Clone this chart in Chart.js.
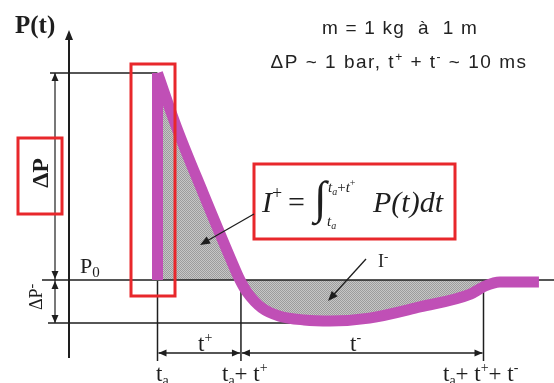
<!DOCTYPE html>
<html>
<head>
<meta charset="utf-8">
<script src="https://cdn.jsdelivr.net/npm/chart.js@4.4.1/dist/chart.umd.min.js"></script>
<style>
  html, body { margin: 0; padding: 0; background: #fff; }
  #wrap { width: 554px; height: 383px; }
</style>
</head>
<body>
<div id="wrap"><canvas id="chart" width="554" height="383"></canvas></div>
<script>
// blast wave overpressure profile, time in ms after arrival, pressure in bar above P0
const riseTime = [0, 0];
const risePressure = [0, 1.0];
const decayTime = [0, 0.58, 1.4, 2.25, 2.53, 2.75, 3.2, 3.75, 4.5, 5.3, 6.5, 8.05, 9.6, 10.05, 10.5, 11.7];
const decayPressure = [1.0, 0.74, 0.42, 0.1, 0, -0.06, -0.135, -0.175, -0.193, -0.198, -0.184, -0.13, -0.068, -0.029, -0.01, -0.01];

// time marks: t_a, t_a + t+, t_a + t+ + t-
const markTimes = [0, 2.56, 10.0];
// pressure marks: peak, ambient P0, lowest
const markPressures = [1.0, 0, -0.208];

const MAGENTA = '#c04fb6';
const RED = '#e8272b';
const INK = '#1e1e1e';
const SERIF = '"Liberation Serif", "Times New Roman", serif';
const SANS = '"Liberation Sans", Arial, sans-serif';

function toPoints(xs, ys) {
  return xs.map((x, i) => ({ x: x, y: ys[i] }));
}

function makeDots() {
  const c = document.createElement('canvas');
  c.width = 2;
  c.height = 2;
  const g = c.getContext('2d');
  g.fillStyle = '#c6c6c6';
  g.fillRect(0, 0, 2, 2);
  g.fillStyle = '#9c9c9c';
  g.fillRect(0, 0, 1, 1);
  g.fillRect(1, 1, 1, 1);
  return g.createPattern(c, 'repeat');
}

function seg(ctx, x1, y1, x2, y2) {
  ctx.beginPath();
  ctx.moveTo(x1, y1);
  ctx.lineTo(x2, y2);
  ctx.stroke();
}

function head(ctx, x, y, a, len, half) {
  const c = Math.cos(a), s = Math.sin(a);
  ctx.beginPath();
  ctx.moveTo(x, y);
  ctx.lineTo(x - c * len - s * half, y - s * len + c * half);
  ctx.lineTo(x - c * len + s * half, y - s * len - c * half);
  ctx.closePath();
  ctx.fill();
}

function arrowTo(ctx, x1, y1, x2, y2, len, half) {
  const a = Math.atan2(y2 - y1, x2 - x1);
  seg(ctx, x1, y1, x2 - Math.cos(a) * len * 0.7, y2 - Math.sin(a) * len * 0.7);
  head(ctx, x2, y2, a, len, half);
}

function dimension(ctx, x1, y1, x2, y2) {
  seg(ctx, x1, y1, x2, y2);
  const a = Math.atan2(y2 - y1, x2 - x1);
  head(ctx, x2, y2, a, 8, 3.5);
  head(ctx, x1, y1, a + Math.PI, 8, 3.5);
}

function runs(ctx, parts, x, y, align) {
  let w = 0;
  parts.forEach((p) => {
    ctx.font = p.f;
    p.w = ctx.measureText(p.t).width;
    w += p.w;
  });
  let cx = align === 'center' ? x - w / 2 : x;
  parts.forEach((p) => {
    ctx.font = p.f;
    ctx.fillText(p.t, cx, y + (p.dy || 0));
    cx += p.w;
  });
}

function box(ctx, x1, y1, x2, y2) {
  ctx.strokeRect(x1, y1, x2 - x1, y2 - y1);
}

const diagram = {
  id: 'diagram',
  beforeDatasetsDraw(chart) {
    const { ctx } = chart;
    const px = (v) => chart.scales.x.getPixelForValue(v);
    const py = (v) => chart.scales.y.getPixelForValue(v);
    const [tA, tPos, tNeg] = markTimes;
    const [pPeak, p0, pLow] = markPressures;

    ctx.save();
    ctx.strokeStyle = INK;
    ctx.fillStyle = INK;
    ctx.textAlign = 'left';
    ctx.textBaseline = 'alphabetic';

    // reference lines
    ctx.lineWidth = 1.5;
    seg(ctx, 42, py(p0), 554, py(p0));
    seg(ctx, 50, py(pPeak), px(tA), py(pPeak));
    seg(ctx, 48, py(pLow), 300, py(pLow));

    // pressure axis
    ctx.lineWidth = 2;
    seg(ctx, 69, 358, 69, 38);
    head(ctx, 69, 30, -Math.PI / 2, 10, 4);

    // ΔP and ΔP- dimensions
    ctx.lineWidth = 1.2;
    seg(ctx, 55, py(pPeak), 55, py(pLow));
    head(ctx, 55, py(pPeak), -Math.PI / 2, 8, 3.5);
    head(ctx, 55, py(p0) - 1, Math.PI / 2, 8, 3.5);
    head(ctx, 55, py(p0) + 1, -Math.PI / 2, 8, 3.5);
    head(ctx, 55, py(pLow), Math.PI / 2, 8, 3.5);

    // time marks and durations
    ctx.lineWidth = 1.5;
    markTimes.forEach((t) => seg(ctx, px(t), py(p0) + 1, px(t), 361));
    ctx.lineWidth = 1.3;
    dimension(ctx, px(tA) + 1, 353, px(tPos) - 1, 353);
    dimension(ctx, px(tPos) + 1, 353, px(tNeg) - 1, 353);

    // labels
    ctx.font = 'bold 25px ' + SERIF;
    ctx.fillText('P(t)', 15, 33);

    runs(ctx, [
      { t: 'P', f: '22px ' + SERIF },
      { t: '0', f: '15px ' + SERIF, dy: 4 },
    ], 80, 273);

    ctx.save();
    ctx.translate(42, 173);
    ctx.rotate(-Math.PI / 2);
    ctx.textAlign = 'center';
    ctx.textBaseline = 'middle';
    ctx.font = 'bold 24px ' + SERIF;
    ctx.fillText('ΔP', 0, 0);
    ctx.restore();

    ctx.save();
    ctx.translate(42, 297);
    ctx.rotate(-Math.PI / 2);
    runs(ctx, [
      { t: 'ΔP', f: '18px ' + SERIF },
      { t: '-', f: '14px ' + SERIF, dy: -6 },
    ], 0, 0, 'center');
    ctx.restore();

    const big = '23px ' + SERIF;
    const small = '14px ' + SERIF;
    runs(ctx, [{ t: 't', f: big }, { t: '+', f: small, dy: -9 }], 198, 351);
    runs(ctx, [{ t: 't', f: big }, { t: '-', f: small, dy: -9 }], 350, 351);

    runs(ctx, [{ t: 't', f: big }, { t: 'a', f: small, dy: 4 }], 156, 381);
    runs(ctx, [
      { t: 't', f: big }, { t: 'a', f: small, dy: 4 }, { t: '+ ', f: big },
      { t: 't', f: big }, { t: '+', f: small, dy: -9 },
    ], 222, 381);
    runs(ctx, [
      { t: 't', f: big }, { t: 'a', f: small, dy: 4 }, { t: '+ ', f: big },
      { t: 't', f: big }, { t: '+', f: small, dy: -9 }, { t: '+ ', f: big },
      { t: 't', f: big }, { t: '-', f: small, dy: -9 },
    ], 443, 381);

    // conditions
    ctx.fillStyle = '#222';
    ctx.letterSpacing = '1.2px';
    runs(ctx, [{ t: 'm = 1 kg  à  1 m', f: '19px ' + SANS }], 400, 34, 'center');
    ctx.letterSpacing = '1.5px';
    runs(ctx, [
      { t: 'ΔP ~ 1 bar, t', f: '19px ' + SANS },
      { t: '+', f: '12px ' + SANS, dy: -7 },
      { t: ' + t', f: '19px ' + SANS },
      { t: '-', f: '12px ' + SANS, dy: -7 },
      { t: ' ~ 10 ms', f: '19px ' + SANS },
    ], 399, 68, 'center');
    ctx.letterSpacing = '0px';
    ctx.restore();
  },
  afterDatasetsDraw(chart) {
    const { ctx } = chart;
    ctx.save();
    ctx.textAlign = 'left';
    ctx.textBaseline = 'alphabetic';

    // highlight frames
    ctx.strokeStyle = RED;
    ctx.lineWidth = 3;
    box(ctx, 18, 138, 62, 214);
    box(ctx, 131, 64, 175, 296);
    box(ctx, 254, 164, 455, 239);

    // impulse pointers
    ctx.strokeStyle = INK;
    ctx.fillStyle = INK;
    ctx.lineWidth = 1.3;
    arrowTo(ctx, 254, 214, 200, 245, 10, 4);
    arrowTo(ctx, 366, 259, 328, 301, 10, 4);

    runs(ctx, [
      { t: 'I', f: '18px ' + SERIF },
      { t: '-', f: '13px ' + SERIF, dy: -6 },
    ], 378, 267);

    // I+ = integral of P(t) dt
    const it = 'italic 30px ' + SERIF;
    runs(ctx, [
      { t: 'I', f: it },
      { t: '+', f: '18px ' + SERIF, dy: -13 },
    ], 262, 212);
    ctx.font = '30px ' + SERIF;
    ctx.fillText('=', 288, 212);

    ctx.font = '40px ' + SERIF;
    const m = ctx.measureText('∫');
    const h = m.actualBoundingBoxAscent + m.actualBoundingBoxDescent;
    const size = h > 0 ? 40 * 46 / h : 40;
    ctx.font = size + 'px ' + SERIF;
    const m2 = ctx.measureText('∫');
    ctx.fillText('∫', 314, 180 + m2.actualBoundingBoxAscent);

    const lim = 'italic 15px ' + SERIF;
    const sub = 'italic 10px ' + SERIF;
    runs(ctx, [
      { t: 't', f: lim }, { t: 'a', f: sub, dy: 3 }, { t: '+', f: '15px ' + SERIF },
      { t: 't', f: lim }, { t: '+', f: '10px ' + SERIF, dy: -6 },
    ], 328, 192);
    runs(ctx, [{ t: 't', f: lim }, { t: 'a', f: sub, dy: 3 }], 327, 226);

    ctx.font = it;
    ctx.fillText('P(t)dt', 373, 212);
    ctx.restore();
  },
};

new Chart(document.getElementById('chart'), {
  type: 'line',
  data: {
    datasets: [
      {
        data: toPoints(decayTime, decayPressure),
        borderColor: MAGENTA,
        borderWidth: 11,
        borderCapStyle: 'butt',
        borderJoinStyle: 'round',
        backgroundColor: makeDots(),
        fill: 'origin',
        cubicInterpolationMode: 'monotone',
        pointRadius: 0,
      },
      {
        data: toPoints(riseTime, risePressure),
        borderColor: MAGENTA,
        borderWidth: 11,
        borderCapStyle: 'butt',
        fill: false,
        tension: 0,
        pointRadius: 0,
      },
    ],
  },
  options: {
    responsive: false,
    animation: false,
    devicePixelRatio: 1,
    events: [],
    layout: { padding: 0 },
    scales: {
      x: { type: 'linear', min: -157.5 / 32.6, max: (554 - 157.5) / 32.6, display: false },
      y: { type: 'linear', min: -103 / 207, max: 280 / 207, display: false },
    },
    plugins: {
      legend: { display: false },
      tooltip: { enabled: false },
      filler: { drawTime: 'beforeDatasetsDraw' },
    },
  },
  plugins: [diagram],
});
</script>
</body>
</html>
